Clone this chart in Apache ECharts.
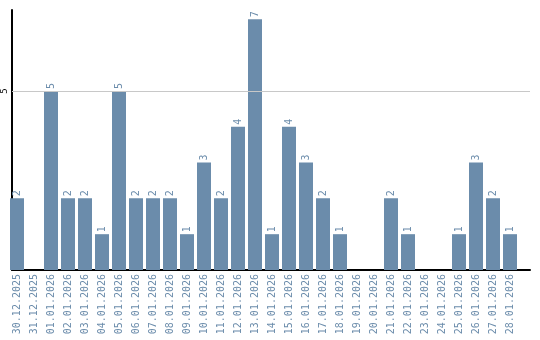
<!DOCTYPE html>
<html><head><meta charset="utf-8">
<script src="https://cdn.jsdelivr.net/npm/echarts@6/dist/echarts.min.js"></script>
<style>html,body{margin:0;padding:0;background:#fff}#c{width:540px;height:340px}</style>
</head><body><div id="c"></div>
<script>
const categories = ["30.12.2025","31.12.2025","01.01.2026","02.01.2026","03.01.2026","04.01.2026","05.01.2026","06.01.2026","07.01.2026","08.01.2026","09.01.2026","10.01.2026","11.01.2026","12.01.2026","13.01.2026","14.01.2026","15.01.2026","16.01.2026","17.01.2026","18.01.2026","19.01.2026","20.01.2026","21.01.2026","22.01.2026","23.01.2026","24.01.2026","25.01.2026","26.01.2026","27.01.2026","28.01.2026"];
const values = [2,0,5,2,2,1,5,2,2,2,1,3,2,4,7,1,4,3,2,1,0,0,2,1,0,0,1,3,2,1];
const yTicks = [5];

const barColor = '#6b8cab';
const mono = 'DejaVu Sans Mono, monospace';
const yMax = 7.26;
const chart = echarts.init(document.getElementById('c'), null, {renderer:'canvas'});
chart.setOption({
  animation:false,
  grid:[
    {left:8.5, right:21.5, top:10, bottom:70},
    {left:10, right:10, top:10, bottom:70}
  ],
  xAxis:[
    {gridIndex:0, type:'category', data:categories, boundaryGap:true,
     axisLine:{show:false}, axisTick:{show:false},
     axisLabel:{rotate:90, interval:0, color:'#6b8cab', fontFamily:mono, fontSize:10, margin:4}},
    {gridIndex:1, type:'value', min:0, max:1, axisLine:{show:true, lineStyle:{color:'#000', width:2}},
     axisTick:{show:false}, axisLabel:{show:false}, splitLine:{show:false}}
  ],
  yAxis:[
    {gridIndex:0, type:'value', min:0, max:yMax, show:false, splitLine:{show:false}},
    {gridIndex:1, type:'value', min:0, max:yMax, interval:5,
     axisLine:{show:true, lineStyle:{color:'#000', width:2}}, axisTick:{show:false},
     splitLine:{show:false},
     axisLabel:{rotate:90, margin:3, fontSize:9, color:'#000', fontFamily:mono,
       formatter:v=> yTicks.includes(v)? String(v):''}}
  ],
  series:[{
    type:'bar', xAxisIndex:0, yAxisIndex:0, data:values, barWidth:14,
    itemStyle:{color:barColor},
    label:{show:true, position:'top', rotate:90, align:'left', verticalAlign:'middle', distance:2,
      color:'#6b8cab', fontSize:10, fontFamily:mono,
      formatter:p=> p.value>0? String(p.value):''}
  },{
    type:'line', xAxisIndex:1, yAxisIndex:1, data:[], silent:true,
    markLine:{symbol:'none', silent:true, label:{show:false},
      lineStyle:{color:'#c8c8c8', width:1, type:'solid'},
      data: yTicks.map(t=>({yAxis:t}))}
  }]
});
</script></body></html>
